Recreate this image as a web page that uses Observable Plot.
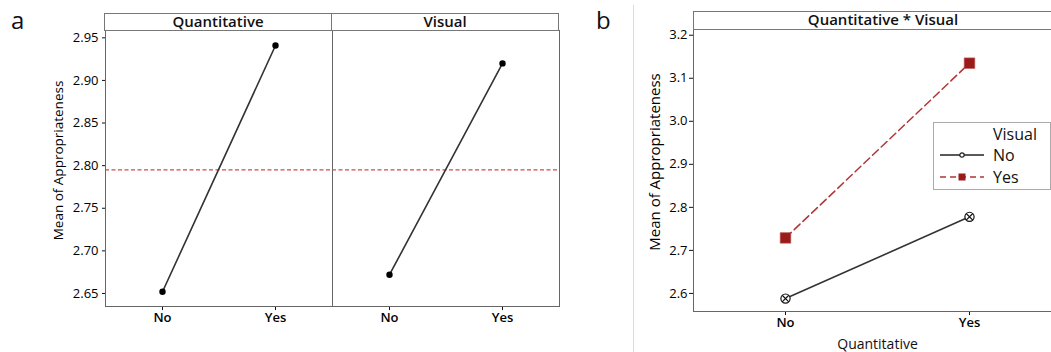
<!DOCTYPE html>
<html>
<head>
<meta charset="utf-8">
<script src="https://cdn.jsdelivr.net/npm/d3@7"></script>
<script src="https://cdn.jsdelivr.net/npm/@observablehq/plot@0.6"></script>
<style>
  html, body { margin: 0; padding: 0; background: #fff; overflow: hidden; }
  #root { position: relative; width: 1051px; height: 352px; overflow: hidden; font-family: "Open Sans", sans-serif; color: #111; }
  #root svg { max-width: none !important; }
  .abs { position: absolute; }
  .panel-letter { font-size: 24px; line-height: 1; }
  .hdr { position: absolute; box-sizing: border-box; border: 1px solid #777; background: #fff; text-align: center; font-weight: 600; font-size: 15px; line-height: 15px; color: #111; }
  .legend { position: absolute; box-sizing: border-box; border: 1px solid #aaa; background: #fff; font-size: 16px; color: #111; }
  .legend .row { position: absolute; left: 0; height: 20px; line-height: 20px; }
  .xt text { font-weight: 600; fill: #000; }
  .yt text { fill: #000; }
  .lab text { fill: #000; }
</style>
</head>
<body>
<div id="root"></div>
<script>
// ---------- data ----------
const factors = ["Quantitative", "Visual"];
const levels = ["No", "Yes"];
const quantMeans = [2.652, 2.941];      // main effect of Quantitative (No, Yes)
const visualMeans = [2.672, 2.920];     // main effect of Visual (No, Yes)
const grandMean = 2.795;
const yTicksA = [2.65, 2.70, 2.75, 2.80, 2.85, 2.90, 2.95];

const visualLevels = ["No", "Yes"];
const visualNoMeans = [2.588, 2.778];   // interaction: Visual = No, over Quantitative No/Yes
const visualYesMeans = [2.729, 3.135];  // interaction: Visual = Yes
const yTicksB = [2.6, 2.7, 2.8, 2.9, 3.0, 3.1, 3.2];

const yLabel = "Mean of Appropriateness";
const root = document.getElementById("root");
const baseStyle = {fontFamily: "Open Sans, sans-serif", fontSize: "13px", color: "#111", background: "transparent", overflow: "hidden"};

// ---------- panel a ----------
const mainData = [];
[quantMeans, visualMeans].forEach((arr, i) =>
  levels.forEach((l, j) => mainData.push({factor: factors[i], level: l, mean: arr[j]})));

const plotA = Plot.plot({
  width: 570, height: 352,
  marginLeft: 104, marginRight: 11, marginTop: 30, marginBottom: 46,
  style: baseStyle,
  fx: {domain: factors, padding: 0, axis: null},
  x: {domain: levels, type: "point", padding: 0.5},
  y: {domain: [2.6347, 2.9586]},
  marks: [
    Plot.axisX({className: "xt", tickSize: 4, tickPadding: 2, label: null}),
    Plot.axisY({className: "yt", ticks: yTicksA, tickFormat: ".2f", tickSize: 3, tickPadding: 4, label: null}),
    Plot.text([{f: factors[0], t: yLabel}], {fx: "f", text: "t", frameAnchor: "left", textAnchor: "middle", lineAnchor: "middle", rotate: -90, dx: -47, dy: -8, fontSize: 13.5, fill: "#000"}),
    Plot.ruleY([grandMean], {stroke: "#d24a4a", strokeWidth: 1.2, strokeDasharray: "4,2.5"}),
    Plot.line(mainData, {fx: "factor", x: "level", y: "mean", stroke: "#333", strokeWidth: 1.6}),
    Plot.dot(mainData, {fx: "factor", x: "level", y: "mean", fill: "#000", r: 3.2}),
    Plot.frame({stroke: "#666"})
  ]
});
plotA.style.position = "absolute";
plotA.style.left = "0px";
plotA.style.top = "0px";
root.appendChild(plotA);

// ---------- panel b ----------
const interData = [];
levels.forEach((q, j) => {
  interData.push({quant: q, visual: "No", mean: visualNoMeans[j]});
  interData.push({quant: q, visual: "Yes", mean: visualYesMeans[j]});
});
const isNo = d => d.visual === visualLevels[0];
const isYes = d => d.visual === visualLevels[1];

const plotB = Plot.plot({
  width: 471, height: 352,
  marginLeft: 103, marginRight: 0, marginTop: 29, marginBottom: 41,
  style: baseStyle,
  x: {domain: levels, type: "point", padding: 0.5},
  y: {domain: [2.558, 3.2133]},
  marks: [
    Plot.axisX({className: "xt", tickSize: 4, tickPadding: 2, label: null}),
    Plot.axisX({className: "lab", ticks: [], tickSize: 0, label: factors[0], labelArrow: "none", labelAnchor: "center", labelOffset: 37, fontSize: 14}),
    Plot.axisY({className: "yt", ticks: yTicksB, tickFormat: ".1f", tickSize: 4, tickPadding: 2, label: null}),
    Plot.text([yLabel], {frameAnchor: "left", textAnchor: "middle", lineAnchor: "middle", rotate: -90, dx: -38, dy: -8.5, fontSize: 15, fill: "#000"}),
    Plot.line(interData, {filter: isNo, x: "quant", y: "mean", stroke: "#333", strokeWidth: 1.6}),
    Plot.line(interData, {filter: isYes, x: "quant", y: "mean", stroke: "#b23535", strokeWidth: 1.5, strokeDasharray: "8,4"}),
    Plot.dot(interData, {filter: isNo, x: "quant", y: "mean", r: 4.6, fill: "#fff", stroke: "#111", strokeWidth: 1.2}),
    Plot.dot(interData, {filter: isNo, x: "quant", y: "mean", symbol: "times", r: 3.1, stroke: "#111", strokeWidth: 1.2}),
    Plot.dot(interData, {filter: isYes, x: "quant", y: "mean", symbol: "square", r: 6, fill: "#9b1b1b", stroke: "#c06060", strokeWidth: 0.6}),
    Plot.frame({stroke: "#666"})
  ]
});
plotB.style.position = "absolute";
plotB.style.left = "590px";
plotB.style.top = "0px";
root.appendChild(plotB);

// ---------- headers ----------
function header(text, left, top, width, height) {
  const d = document.createElement("div");
  d.className = "hdr";
  d.style.left = left + "px"; d.style.top = top + "px";
  d.style.width = width + "px"; d.style.height = height + "px";
  d.textContent = text;
  root.appendChild(d);
}
header(factors[0], 104, 13, 228, 18);
header(factors[1], 331, 13, 228, 18);
header(factors[0] + " * " + factors[1], 693, 11, 380, 19);

// ---------- panel letters & divider ----------
function letter(t, left, top) {
  const d = document.createElement("div");
  d.className = "abs panel-letter";
  d.style.left = left + "px"; d.style.top = top + "px";
  d.textContent = t;
  root.appendChild(d);
}
letter("a", 11, 8);
letter("b", 596, 8);
const dv = document.createElement("div");
dv.className = "abs";
Object.assign(dv.style, {left: "633px", top: "5px", width: "1px", height: "347px", background: "#dcdcdc"});
root.appendChild(dv);

// ---------- legend ----------
const lg = document.createElement("div");
lg.className = "legend";
Object.assign(lg.style, {left: "933px", top: "122px", width: "118px", height: "68px"});
const title = document.createElement("div");
title.className = "row"; title.style.top = "1px"; title.style.left = "59px";
title.textContent = "Visual";
lg.appendChild(title);
const rows = [
  {label: visualLevels[0], top: 22, stroke: "#222", dash: null, kind: "circle"},
  {label: visualLevels[1], top: 44, stroke: "#b23535", dash: "6,4", kind: "square"}
];
rows.forEach(r => {
  const sw = document.createElementNS("http://www.w3.org/2000/svg", "svg");
  sw.setAttribute("width", 48); sw.setAttribute("height", 20);
  sw.style.position = "absolute"; sw.style.left = "4px"; sw.style.top = r.top + "px";
  const ln = document.createElementNS("http://www.w3.org/2000/svg", "line");
  ln.setAttribute("x1", 2); ln.setAttribute("x2", 46); ln.setAttribute("y1", 10); ln.setAttribute("y2", 10);
  ln.setAttribute("stroke", r.stroke); ln.setAttribute("stroke-width", 1.5);
  if (r.dash) ln.setAttribute("stroke-dasharray", r.dash);
  sw.appendChild(ln);
  if (r.kind === "circle") {
    const c = document.createElementNS("http://www.w3.org/2000/svg", "circle");
    c.setAttribute("cx", 24); c.setAttribute("cy", 10); c.setAttribute("r", 2.2);
    c.setAttribute("fill", "#fff"); c.setAttribute("stroke", "#222"); c.setAttribute("stroke-width", 1.2);
    sw.appendChild(c);
  } else {
    const s = document.createElementNS("http://www.w3.org/2000/svg", "rect");
    s.setAttribute("x", 20.5); s.setAttribute("y", 6.5); s.setAttribute("width", 7); s.setAttribute("height", 7);
    s.setAttribute("fill", "#9b1b1b");
    sw.appendChild(s);
  }
  lg.appendChild(sw);
  const t = document.createElement("div");
  t.className = "row"; t.style.top = r.top + "px"; t.style.left = "59px";
  t.textContent = r.label;
  lg.appendChild(t);
});
root.appendChild(lg);
</script>
</body>
</html>
